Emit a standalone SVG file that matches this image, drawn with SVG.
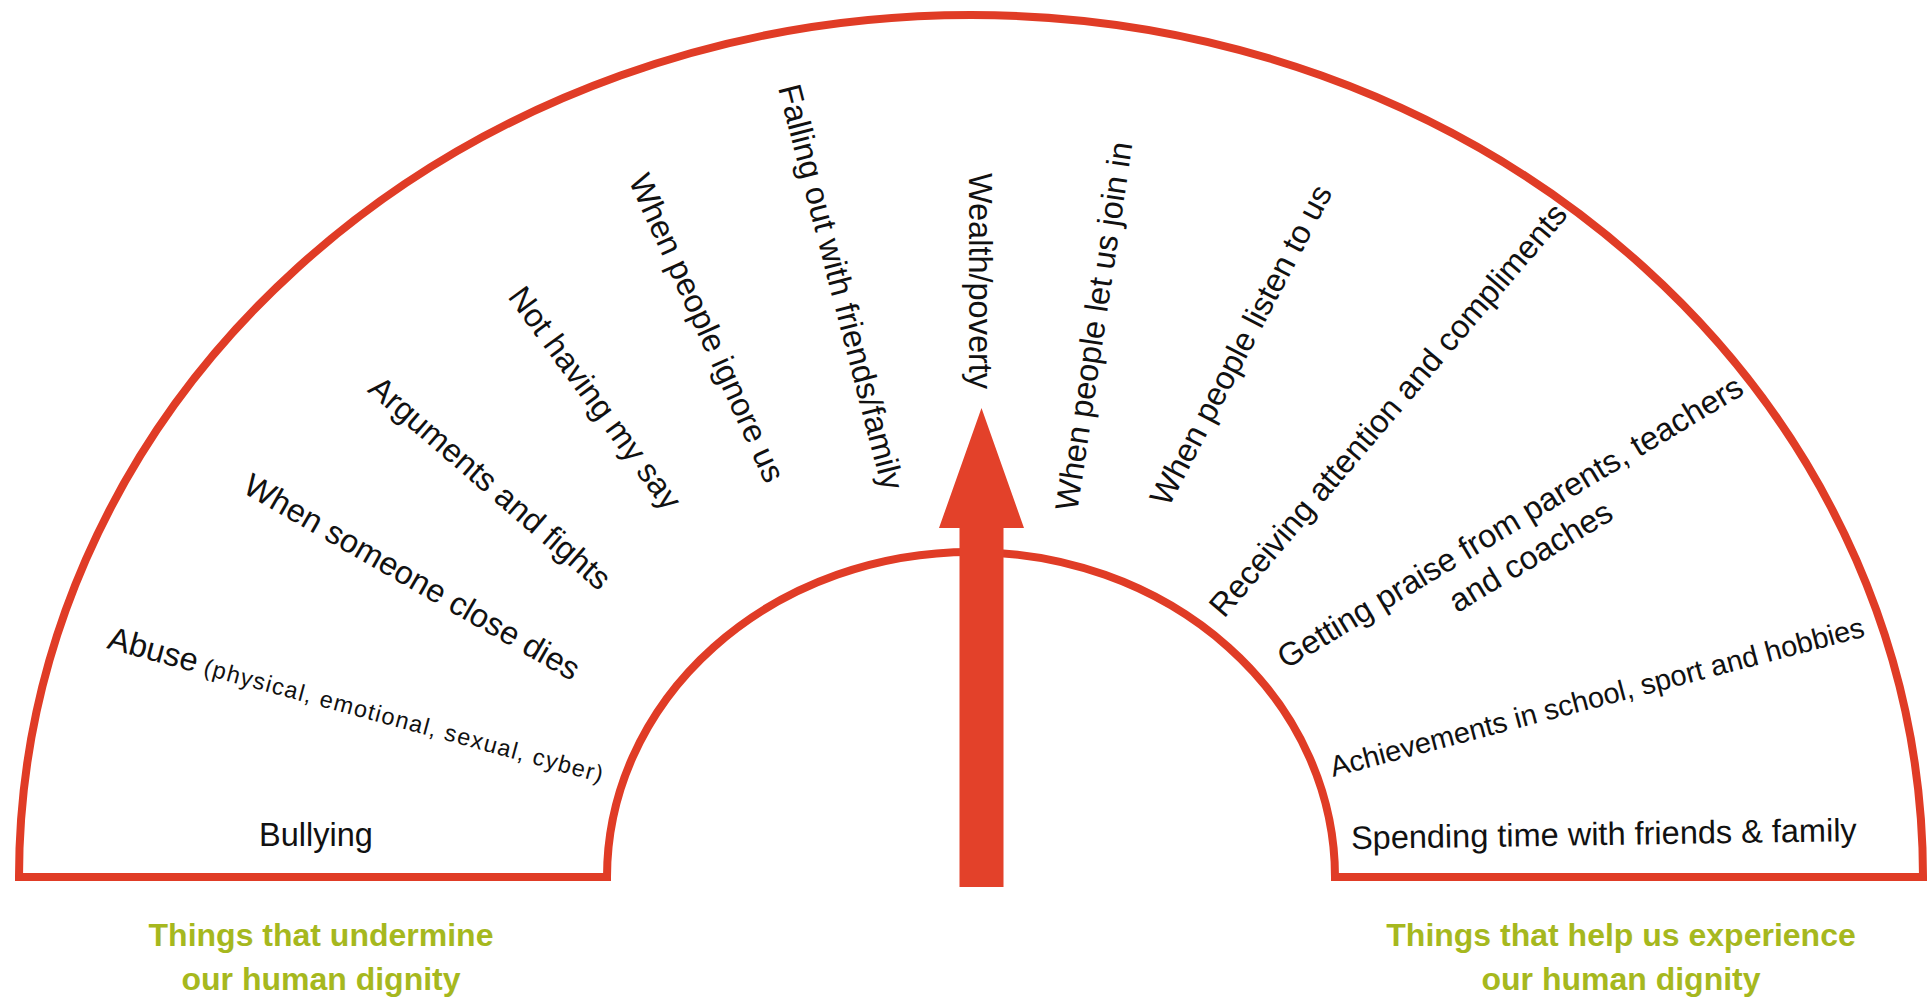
<svg xmlns="http://www.w3.org/2000/svg" width="1932" height="998" viewBox="0 0 1932 998">
<style>
.lbl{font-family:"Liberation Sans",Arial,sans-serif;font-size:32.5px;fill:#111;text-anchor:middle}
.cap{font-family:"Liberation Sans",Arial,sans-serif;font-size:32px;font-weight:bold;fill:#a6b81e;text-anchor:middle}
.band{fill:#fff;stroke:#e03c26;stroke-width:8;stroke-linejoin:miter}
.arr{fill:#e3412a}
</style>
<rect width="1932" height="998" fill="#fff"/>
<g id="band">
<path class="band" d="M 19,877 A 952 862 0 0 1 1923,877 L 1335,877 A 364 325 0 0 0 607,877 Z"/>
</g>
<g id="arrow">
<path class="arr" d="M 959.5,887 L 959.5,528 L 939,528 L 981.5,408 L 1024,528 L 1003.5,528 L 1003.5,887 Z"/>
</g>
<g id="left-labels">
<g id="bullying"><text class="lbl" x="316" y="846">Bullying</text></g>
<g id="abuse"><text class="lbl" style="text-anchor:start" transform="translate(106,648) rotate(15.2)"><tspan>Abuse</tspan><tspan font-size="23.5" letter-spacing="1.3"> (physical, emotional, sexual, cyber)</tspan></text></g>
<g id="someone-dies"><text class="lbl" transform="translate(412,577) rotate(29.8)" y="11">When someone close dies</text></g>
<g id="arguments"><text class="lbl" transform="translate(490,483) rotate(40.8)" y="11">Arguments and fights</text></g>
<g id="not-having-say"><text class="lbl" transform="translate(595,398) rotate(53.7)" y="11">Not having my say</text></g>
<g id="ignore-us"><text class="lbl" transform="translate(707,328) rotate(65.7)" y="11">When people ignore us</text></g>
<g id="falling-out"><text class="lbl" transform="translate(841,287) rotate(75.5)" y="11">Falling out with friends/family</text></g>
</g>
<g id="wealth"><text class="lbl" transform="translate(980,281) rotate(90)" y="11">Wealth/poverty</text></g>
<g id="right-labels">
<g id="join-in"><text class="lbl" transform="translate(1094,326) rotate(-81.5)" y="11">When people let us join in</text></g>
<g id="listen"><text class="lbl" transform="translate(1241,345) rotate(-62.5)" y="11">When people listen to us</text></g>
<g id="attention"><text class="lbl" transform="translate(1388,410) rotate(-49.5)" y="11">Receiving attention and compliments</text></g>
<g id="praise"><text class="lbl" transform="translate(1510,522) rotate(-31)" y="11">Getting praise from parents, teachers<tspan x="0" dy="40">and coaches</tspan></text></g>
<g id="achievements"><text class="lbl" style="font-size:29px" transform="translate(1597,697) rotate(-14.8)" y="10">Achievements in school, sport and hobbies</text></g>
<g id="spending"><text class="lbl" transform="translate(1604,845) rotate(-0.9)">Spending time with friends &amp; family</text></g>
</g>
<g id="captions">
<text class="cap" x="321" y="946">Things that undermine<tspan x="321" y="990">our human dignity</tspan></text>
<text class="cap" x="1621" y="946">Things that help us experience<tspan x="1621" y="990">our human dignity</tspan></text>
</g>
</svg>
